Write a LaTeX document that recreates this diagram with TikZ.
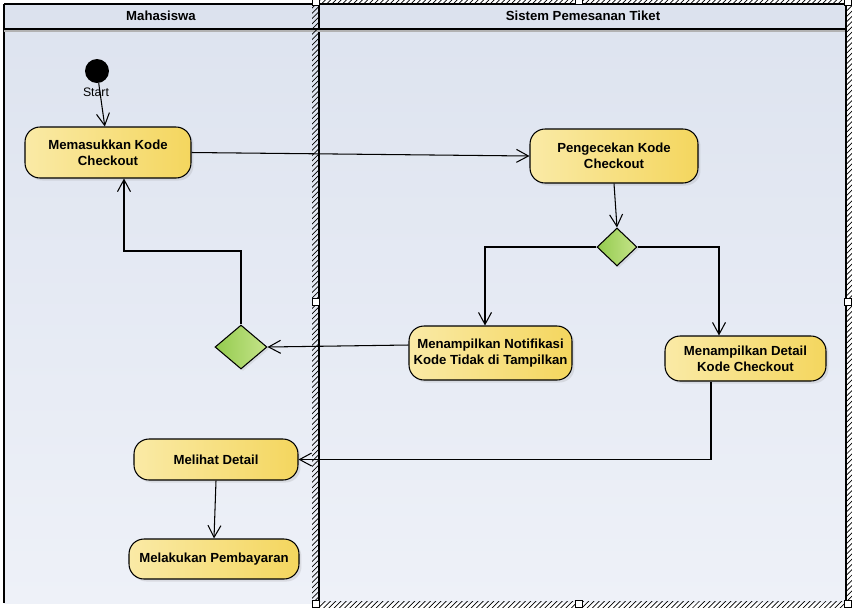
\documentclass[tikz,border=0pt]{standalone}
\usepackage{fontspec}
\setmainfont{Liberation Sans}
\usetikzlibrary{arrows.meta,shapes.geometric,shadows,patterns}

\definecolor{lanetop}{HTML}{DDE3EF}
\definecolor{lanebot}{HTML}{EEF1F8}
\definecolor{headfill}{HTML}{DCE2EE}
\definecolor{actleft}{HTML}{FAEAA6}
\definecolor{actright}{HTML}{F4D65E}
\definecolor{decleft}{HTML}{93CB4E}
\definecolor{decright}{HTML}{C6E48A}

\tikzset{
  act/.style={draw=black, line width=0.6pt, rounded corners=3mm, align=center,
    left color=actleft, right color=actright,
    font=\fontsize{7.5}{9}\selectfont\bfseries,
    drop shadow={opacity=0.18, shadow xshift=0.05cm, shadow yshift=-0.05cm},
    inner sep=0pt},
  decision/.style={diamond, draw=black, line width=0.6pt, aspect=1,
    left color=decleft, right color=decright, inner sep=0pt,
    drop shadow={opacity=0.15, shadow xshift=0.04cm, shadow yshift=-0.04cm}},
  flow/.style={draw=black, line width=0.6pt,
    -{Straight Barb[length=2.4mm,width=2.6mm,line width=0.6pt]}},
  handle/.style={draw=black, fill=white, line width=0.6pt,
    minimum size=0.13cm, inner sep=0pt},
  hatch/.style={pattern=north east lines, draw=none}
}

\begin{document}
\begin{tikzpicture}[x=0.02cm, y=-0.02cm]
\useasboundingbox (0,0) rectangle (852,610);

%lanes
\shade[top color=lanetop, bottom color=lanebot] (4,4) rectangle (845,603);
\fill[headfill] (4,4) rectangle (845,28);
\draw[line width=0.8pt] (4,4) -- (4,603);
\draw[line width=0.8pt] (319,4) -- (319,603);
\draw[line width=0.6pt] (4,4) -- (845,4);
\draw[line width=1.2pt] (4,29) -- (845,29);
\draw[gray!60, line width=0.6pt] (4,31) -- (845,31);
\node[font=\fontsize{7.5}{9}\selectfont\bfseries] (laneA) at (161,16) {Mahasiswa};
\node[font=\fontsize{7.5}{9}\selectfont\bfseries] (laneB) at (583,16) {Sistem Pemesanan Tiket};

%selection frame
\fill[white] (312,0) rectangle (852,4);
\fill[hatch] (319,0) rectangle (852,4);
\fill[hatch] (312,0) rectangle (318,607);
\fill[white] (845,0) rectangle (852,610);
\fill[hatch] (846,0) rectangle (852,607);
\fill[white] (319,603) rectangle (852,610);
\fill[hatch] (319,601) rectangle (852,607);
\draw[line width=0.6pt] (318,4) -- (846,4);
\draw[line width=0.6pt] (846,4) -- (846,603);
\foreach \hx/\hy in {316/2, 579/1, 848/2, 848/302, 848/604, 579/604, 316/604, 316/302}
  \node[handle] at (\hx,\hy) {};

%nodes
\node[circle, fill=black, minimum size=0.48cm, inner sep=0pt] (start) at (97,71) {};
\node[font=\fontsize{7}{8}\selectfont] (startlbl) at (96,92) {Start};
\node[act, minimum width=3.32cm, minimum height=1.02cm] (masuk) at (108,152.5) {Memasukkan Kode\\Checkout};
\node[act, minimum width=3.36cm, minimum height=1.08cm] (cek) at (614,156) {Pengecekan Kode\\Checkout};
\node[decision, minimum width=0.8cm, minimum height=0.76cm] (dec1) at (617,247) {};
\node[act, minimum width=3.26cm, minimum height=1.08cm] (notif) at (490.5,353) {Menampilkan Notifikasi\\Kode Tidak di Tampilkan};
\node[act, minimum width=3.22cm, minimum height=0.9cm] (detail) at (745.5,358.5) {Menampilkan Detail\\Kode Checkout};
\node[decision, minimum width=1.04cm, minimum height=0.88cm] (dec2) at (241,347) {};
\node[act, minimum width=3.28cm, minimum height=0.82cm] (lihat) at (216,459.5) {Melihat Detail};
\node[act, minimum width=3.4cm, minimum height=0.8cm] (bayar) at (214,559) {Melakukan Pembayaran};
\coordinate (back) at (124,251);

%edges
\draw[flow] (start) -- (masuk.97);
\draw[flow] (masuk.east) -- (cek.west);
\draw[flow] (cek.south) -- (dec1.north);
\draw[flow] (dec1.west) -| ([xshift=-0.11cm]notif.north);
\draw[flow] (dec1.east) -| ([xshift=-0.53cm]detail.north);
\draw[flow] ([yshift=0.16cm]notif.west) -- (dec2.east);
\draw[flow] (dec2.north) |- (back) -- (back |- masuk.south);
\draw[flow] ([xshift=-0.69cm]detail.south) |- (lihat.east);
\draw[flow] (lihat.south) -- (bayar.north);

\end{tikzpicture}
\end{document}
